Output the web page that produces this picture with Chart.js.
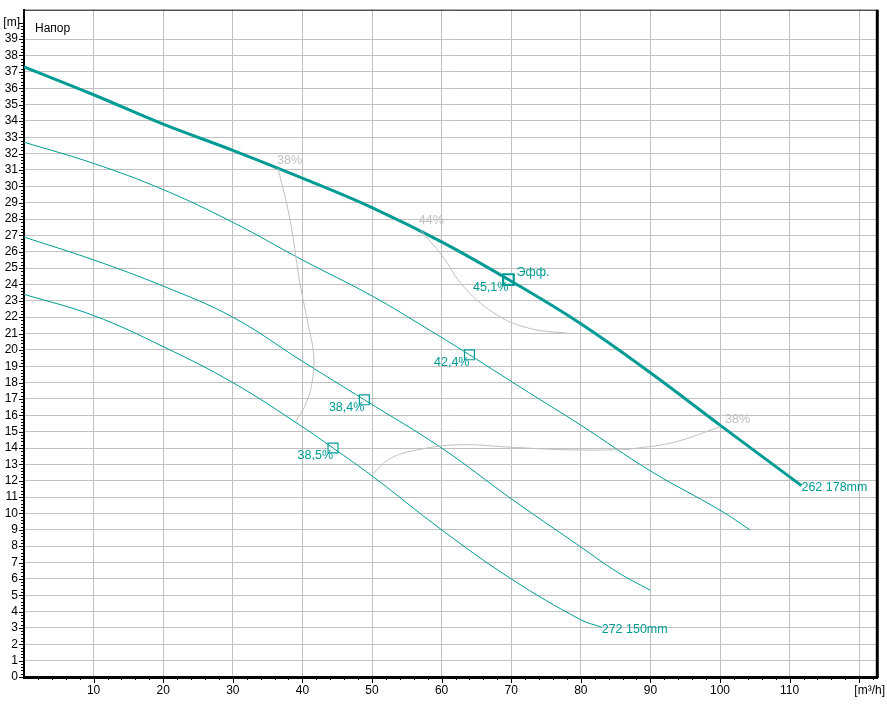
<!DOCTYPE html>
<html lang="ru">
<head>
  <meta charset="UTF-8">
  <title>Напор</title>
  <script src="https://cdn.jsdelivr.net/npm/chart.js"></script>
  <style>
    body {
      margin: 0;
      background: #fff;
    }
    #box {
      width: 887px;
      height: 705px;
    }
  </style>
</head>
<body>
  <div id="box"><canvas id="grafico" width="887" height="705"></canvas></div>

  <script>
    // Кривые напора (Q, м³/ч -> H, м)
    const qMain = [0, 10, 20, 30, 40, 50, 60, 70, 80, 90, 100, 111.7];
    const hMain = [37.3, 35.6, 33.8, 32.2, 30.5, 28.7, 26.6, 24.2, 21.6, 18.6, 15.4, 11.7];

    const q2 = [0, 10, 20, 30, 40, 50, 58.3, 64, 72.5, 80, 90, 100, 104.3];
    const h2 = [32.7, 31.4, 29.8, 27.8, 25.5, 23.3, 21.2, 19.7, 17.4, 15.4, 12.6, 10.2, 9.0];

    const q3 = [0, 10, 20, 30, 40, 48.9, 60, 70, 80, 85.3, 90];
    const h3 = [26.9, 25.5, 23.9, 22.0, 19.3, 16.95, 14.0, 10.9, 7.95, 6.4, 5.3];

    const q4 = [0, 10, 20, 30, 40, 44.4, 50, 60, 70, 80, 83];
    const h4 = [23.4, 22.1, 20.2, 18.0, 15.3, 14.0, 12.3, 9.0, 6.0, 3.5, 3.05];

    // Линии КПД
    const qEff38a = [36.5, 38.2, 39.6, 40.9, 41.6, 41.5, 40.6, 39.0];
    const hEff38a = [31.1, 28.0, 24.2, 21.4, 19.8, 18.3, 16.8, 15.6];
    const qEff44 = [57.0, 60, 63.3, 68.1, 72.8, 78.4];
    const hEff44 = [27.3, 25.8, 23.8, 22.1, 21.3, 21.0];
    const qEff38b = [50, 52.8, 56.7, 62.4, 70, 77.4, 86, 88.2, 93.4, 100];
    const hEff38b = [12.4, 13.4, 13.9, 14.2, 14.05, 13.9, 13.9, 14.0, 14.35, 15.3];

    // Рабочие точки
    const dutyQ = [69.6, 64, 48.9, 44.4];
    const dutyH = [24.3, 19.7, 16.95, 14.0];
    const dutyText = ["45,1%", "42,4%", "38,4%", "38,5%"];

    // Подписи
    const effText = ["38%", "44%", "38%"];
    const effAt = [[36.5, 31.1], [57.0, 27.3], [100, 15.3]];
    const curveText = ["262 178mm", "272 150mm"];
    const curveAt = [[111.7, 11.7], [83, 3.05]];

    // Оси
    const xTicks = [10, 20, 30, 40, 50, 60, 70, 80, 90, 100, 110];
    const yTicks = Array.from({ length: 40 }, (_, i) => i);

    const TEAL = "#009b95";
    const GREY = "#c0c0c0";
    const FONT = "12px 'Liberation Sans', Arial, sans-serif";
    const FONT_LBL = "12.5px 'Liberation Sans', Arial, sans-serif";

    function pts(q, h) {
      return q.map((v, i) => ({ x: v, y: h[i] }));
    }

    function curve(q, h, color, width) {
      return {
        data: pts(q, h),
        borderColor: color,
        borderWidth: width,
        pointRadius: 0,
        fill: false,
        tension: 0.4
      };
    }

    // рамка, риски и подписи
    const extras = {
      id: "extras",
      afterDatasetsDraw(chart) {
        const { ctx, scales: { x, y } } = chart;
        ctx.save();
        ctx.font = FONT_LBL;
        ctx.textBaseline = "middle";

        ctx.fillStyle = GREY;
        ctx.textAlign = "left";
        ctx.fillText(effText[0], x.getPixelForValue(effAt[0][0]) - 1, y.getPixelForValue(effAt[0][1]) - 8);
        ctx.fillText(effText[1], x.getPixelForValue(effAt[1][0]) - 2, y.getPixelForValue(effAt[1][1]) - 10);
        ctx.fillText(effText[2], x.getPixelForValue(effAt[2][0]) + 5, y.getPixelForValue(effAt[2][1]) - 7);

        ctx.fillStyle = TEAL;
        ctx.textAlign = "right";
        dutyText.forEach((t, i) => {
          ctx.fillText(t, x.getPixelForValue(dutyQ[i]), y.getPixelForValue(dutyH[i]) + 8);
        });
        ctx.textAlign = "left";
        ctx.fillText("Эфф.", x.getPixelForValue(dutyQ[0]) + 8, y.getPixelForValue(dutyH[0]) - 7);
        curveText.forEach((t, i) => {
          ctx.fillText(t, x.getPixelForValue(curveAt[i][0]), y.getPixelForValue(curveAt[i][1]) + 2);
        });
        ctx.restore();
      },
      afterDraw(chart) {
        const { ctx, chartArea: a, scales: { x, y } } = chart;
        ctx.save();
        ctx.strokeStyle = "#000";
        ctx.lineWidth = 1;
        for (let i = 0; i <= 200; i++) {
          const py = Math.round(y.getPixelForValue(i / 5)) + 0.5;
          const len = i % 5 === 0 ? 5 : 3;
          ctx.beginPath();
          ctx.moveTo(a.left - len, py);
          ctx.lineTo(a.left, py);
          ctx.stroke();
        }
        for (let v = 2; v <= 122; v += 2) {
          const px = Math.round(x.getPixelForValue(v)) + 0.5;
          const len = v % 10 === 0 ? 6 : 3;
          ctx.beginPath();
          ctx.moveTo(px, a.bottom);
          ctx.lineTo(px, a.bottom + len);
          ctx.stroke();
        }
        ctx.beginPath();
        ctx.moveTo(a.left, a.top + 0.5);
        ctx.lineTo(a.right, a.top + 0.5);
        ctx.stroke();
        ctx.lineWidth = 3;
        ctx.beginPath();
        ctx.moveTo(a.right, a.top);
        ctx.lineTo(a.right, a.bottom + 1);
        ctx.stroke();

        ctx.font = FONT;
        ctx.fillStyle = "#000";
        ctx.textBaseline = "middle";
        ctx.textAlign = "right";
        yTicks.forEach(v => ctx.fillText(String(v), a.left - 6, y.getPixelForValue(v)));
        ctx.fillText("[m]", a.left - 4, y.getPixelForValue(40));
        ctx.textAlign = "center";
        xTicks.forEach(v => ctx.fillText(String(v), x.getPixelForValue(v), a.bottom + 14));
        ctx.textAlign = "right";
        ctx.fillText("[m³/h]", 885, a.bottom + 14);
        ctx.textAlign = "left";
        ctx.fillText("Напор", a.left + 11, a.top + 19);
        ctx.restore();
      }
    };

    const ctx = document.getElementById("grafico").getContext("2d");
    const chart = new Chart(ctx, {
      type: "line",
      data: {
        datasets: [
          curve(qEff38a, hEff38a, GREY, 1),
          curve(qEff44, hEff44, GREY, 1),
          curve(qEff38b, hEff38b, GREY, 1),
          curve(q4, h4, TEAL, 1),
          curve(q3, h3, TEAL, 1),
          curve(q2, h2, TEAL, 1),
          curve(qMain, hMain, TEAL, 3),
          {
            data: pts(dutyQ.slice(1), dutyH.slice(1)),
            showLine: false,
            pointStyle: "rect",
            pointRadius: 7,
            pointBackgroundColor: "#fff",
            pointBorderColor: TEAL,
            pointBorderWidth: 1.2
          },
          {
            data: pts(dutyQ.slice(0, 1), dutyH.slice(0, 1)),
            showLine: false,
            pointStyle: "rect",
            pointRadius: 7.5,
            pointBackgroundColor: "#fff",
            pointBorderColor: TEAL,
            pointBorderWidth: 2.2
          }
        ]
      },
      options: {
        responsive: false,
        animation: false,
        layout: { padding: { top: 7, right: 2, left: 0, bottom: 0 } },
        plugins: {
          legend: { display: false },
          tooltip: { enabled: false }
        },
        scales: {
          x: {
            type: "linear",
            min: 0,
            max: 122.6,
            afterFit: s => { s.height = 28; },
            border: { color: "#000", width: 3 },
            grid: {
              drawTicks: false,
              color: c => (c.tick && c.tick.value === 0 ? "rgba(0,0,0,0)" : GREY)
            },
            ticks: { stepSize: 10, includeBounds: false, autoSkip: false, display: false }
          },
          y: {
            min: 0,
            max: 40.8,
            afterFit: s => { s.width = 24; },
            border: { color: "#000", width: 2 },
            grid: {
              drawTicks: false,
              color: c => (c.tick && c.tick.value === 40 ? "rgba(0,0,0,0)" : GREY)
            },
            ticks: { stepSize: 1, includeBounds: false, autoSkip: false, display: false }
          }
        }
      },
      plugins: [extras]
    });
  </script>
</body>
</html>
